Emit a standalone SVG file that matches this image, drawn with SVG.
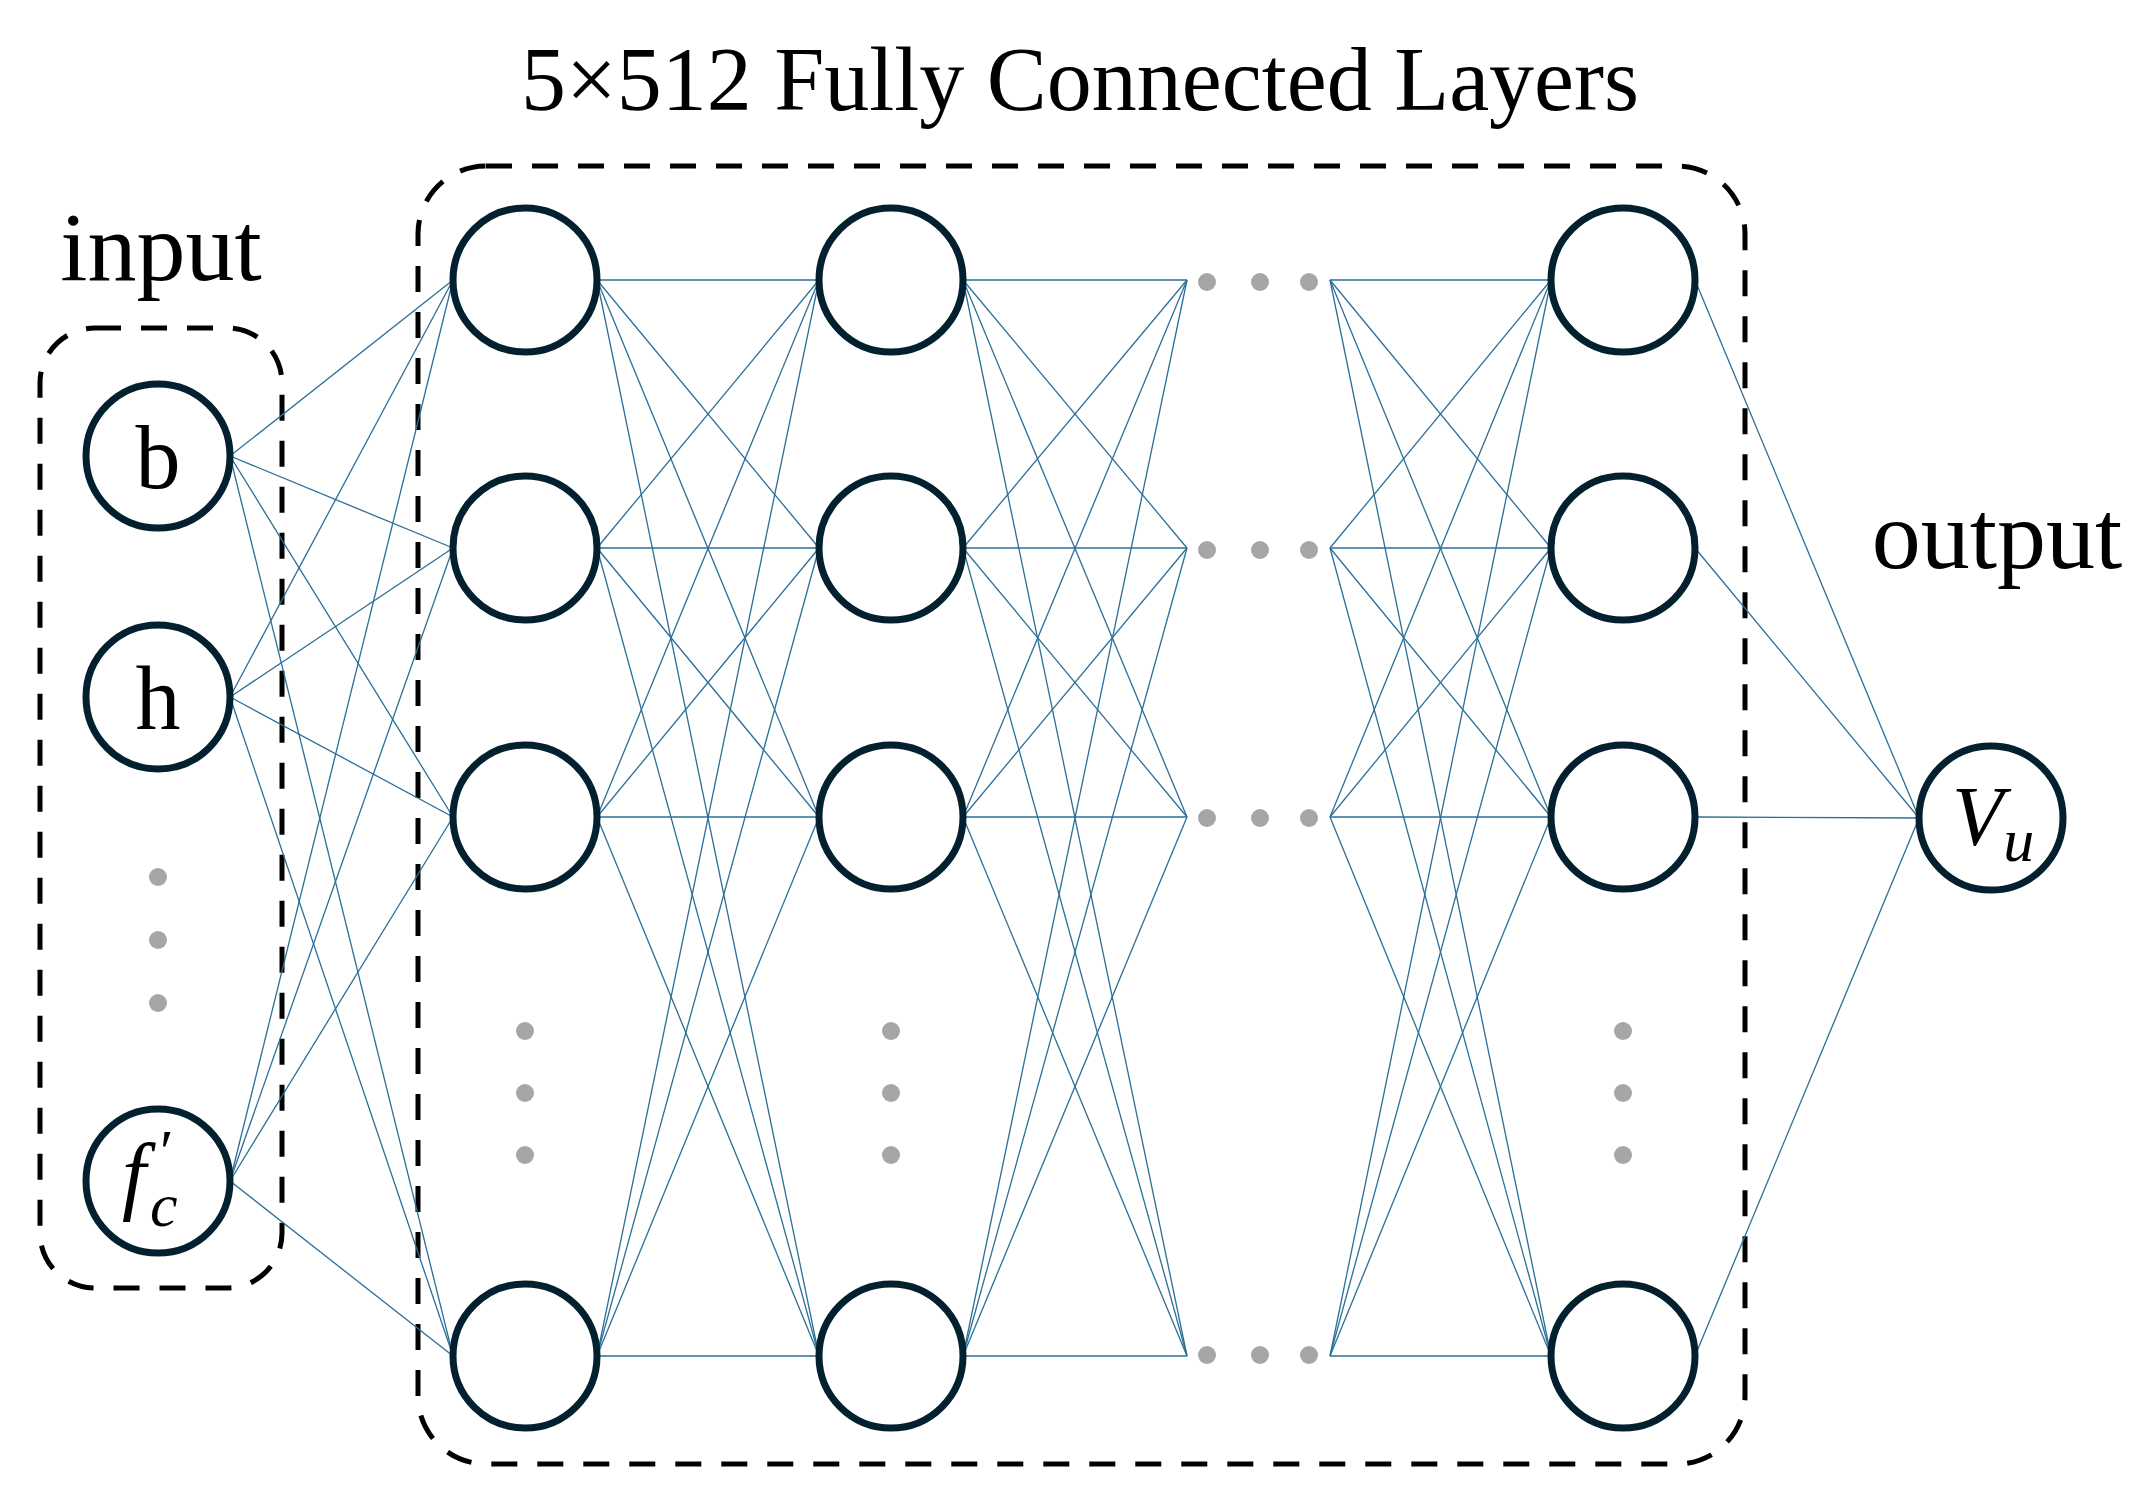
<svg xmlns="http://www.w3.org/2000/svg" width="2139" height="1491" viewBox="0 0 2139 1491">
<style>
.n{fill:#fff;stroke:#03202e;stroke-width:7}
.c line{stroke:#2a6f97;stroke-width:1.3}
.box{fill:none;stroke:#000;stroke-width:5;stroke-dasharray:26 20}
.d{fill:#a6a6a6}
text{font-family:"Liberation Serif",serif;fill:#000}
</style>
<rect width="2139" height="1491" fill="#fff"/>
<g id="labels">
<text x="1080" y="110" font-size="90" text-anchor="middle">5×512 Fully Connected Layers</text>
<text x="161" y="280" font-size="98" text-anchor="middle">input</text>
<text x="1997" y="568" font-size="98" text-anchor="middle">output</text>
</g>
<rect id="input-box" class="box" x="40" y="328" width="242" height="960" rx="55"/>
<rect id="hidden-box" class="box" x="418" y="166" width="1327" height="1298" rx="68"/>
<g class="c" id="connectors">
<line x1="230" y1="456" x2="453" y2="280"/><line x1="230" y1="456" x2="453" y2="548"/><line x1="230" y1="456" x2="453" y2="817"/><line x1="230" y1="456" x2="453" y2="1356"/>
<line x1="230" y1="697" x2="453" y2="280"/><line x1="230" y1="697" x2="453" y2="548"/><line x1="230" y1="697" x2="453" y2="817"/><line x1="230" y1="697" x2="453" y2="1356"/>
<line x1="230" y1="1181" x2="453" y2="280"/><line x1="230" y1="1181" x2="453" y2="548"/><line x1="230" y1="1181" x2="453" y2="817"/><line x1="230" y1="1181" x2="453" y2="1356"/>
<line x1="597" y1="280" x2="819" y2="280"/><line x1="597" y1="280" x2="819" y2="548"/><line x1="597" y1="280" x2="819" y2="817"/><line x1="597" y1="280" x2="819" y2="1356"/>
<line x1="597" y1="548" x2="819" y2="280"/><line x1="597" y1="548" x2="819" y2="548"/><line x1="597" y1="548" x2="819" y2="817"/><line x1="597" y1="548" x2="819" y2="1356"/>
<line x1="597" y1="817" x2="819" y2="280"/><line x1="597" y1="817" x2="819" y2="548"/><line x1="597" y1="817" x2="819" y2="817"/><line x1="597" y1="817" x2="819" y2="1356"/>
<line x1="597" y1="1356" x2="819" y2="280"/><line x1="597" y1="1356" x2="819" y2="548"/><line x1="597" y1="1356" x2="819" y2="817"/><line x1="597" y1="1356" x2="819" y2="1356"/>
<line x1="963" y1="280" x2="1187" y2="280"/><line x1="963" y1="280" x2="1187" y2="548"/><line x1="963" y1="280" x2="1187" y2="817"/><line x1="963" y1="280" x2="1187" y2="1356"/>
<line x1="963" y1="548" x2="1187" y2="280"/><line x1="963" y1="548" x2="1187" y2="548"/><line x1="963" y1="548" x2="1187" y2="817"/><line x1="963" y1="548" x2="1187" y2="1356"/>
<line x1="963" y1="817" x2="1187" y2="280"/><line x1="963" y1="817" x2="1187" y2="548"/><line x1="963" y1="817" x2="1187" y2="817"/><line x1="963" y1="817" x2="1187" y2="1356"/>
<line x1="963" y1="1356" x2="1187" y2="280"/><line x1="963" y1="1356" x2="1187" y2="548"/><line x1="963" y1="1356" x2="1187" y2="817"/><line x1="963" y1="1356" x2="1187" y2="1356"/>
<line x1="1330" y1="280" x2="1551" y2="280"/><line x1="1330" y1="280" x2="1551" y2="548"/><line x1="1330" y1="280" x2="1551" y2="817"/><line x1="1330" y1="280" x2="1551" y2="1356"/>
<line x1="1330" y1="548" x2="1551" y2="280"/><line x1="1330" y1="548" x2="1551" y2="548"/><line x1="1330" y1="548" x2="1551" y2="817"/><line x1="1330" y1="548" x2="1551" y2="1356"/>
<line x1="1330" y1="817" x2="1551" y2="280"/><line x1="1330" y1="817" x2="1551" y2="548"/><line x1="1330" y1="817" x2="1551" y2="817"/><line x1="1330" y1="817" x2="1551" y2="1356"/>
<line x1="1330" y1="1356" x2="1551" y2="280"/><line x1="1330" y1="1356" x2="1551" y2="548"/><line x1="1330" y1="1356" x2="1551" y2="817"/><line x1="1330" y1="1356" x2="1551" y2="1356"/>
<line x1="1695" y1="280" x2="1919" y2="818"/><line x1="1695" y1="548" x2="1919" y2="818"/><line x1="1695" y1="817" x2="1919" y2="818"/><line x1="1695" y1="1356" x2="1919" y2="818"/>
</g>
<g id="dots">
<circle class="d" cx="158" cy="877" r="9"/><circle class="d" cx="158" cy="940" r="9"/><circle class="d" cx="158" cy="1003" r="9"/>
<circle class="d" cx="525" cy="1031" r="9"/><circle class="d" cx="525" cy="1093" r="9"/><circle class="d" cx="525" cy="1155" r="9"/>
<circle class="d" cx="891" cy="1031" r="9"/><circle class="d" cx="891" cy="1093" r="9"/><circle class="d" cx="891" cy="1155" r="9"/>
<circle class="d" cx="1623" cy="1031" r="9"/><circle class="d" cx="1623" cy="1093" r="9"/><circle class="d" cx="1623" cy="1155" r="9"/>
<circle class="d" cx="1207" cy="282" r="9"/><circle class="d" cx="1260" cy="282" r="9"/><circle class="d" cx="1309" cy="282" r="9"/>
<circle class="d" cx="1207" cy="550" r="9"/><circle class="d" cx="1260" cy="550" r="9"/><circle class="d" cx="1309" cy="550" r="9"/>
<circle class="d" cx="1207" cy="818" r="9"/><circle class="d" cx="1260" cy="818" r="9"/><circle class="d" cx="1309" cy="818" r="9"/>
<circle class="d" cx="1207" cy="1355" r="9"/><circle class="d" cx="1260" cy="1355" r="9"/><circle class="d" cx="1309" cy="1355" r="9"/>
</g>
<g id="in-b"><circle class="n" cx="158" cy="456" r="72"/><text x="158" y="488" font-size="90" text-anchor="middle">b</text></g>
<g id="in-h"><circle class="n" cx="158" cy="697" r="72"/><text x="158" y="729" font-size="90" text-anchor="middle">h</text></g>
<g id="in-fc"><circle class="n" cx="158" cy="1181" r="72"/><text x="122" y="1203" font-size="86" font-style="italic">f<tspan x="160" y="1172" font-size="62" font-style="normal">′</tspan><tspan x="150" y="1226" font-size="62">c</tspan></text></g>
<g id="h1-1"><circle class="n" cx="525" cy="280" r="72"/></g>
<g id="h1-2"><circle class="n" cx="525" cy="548" r="72"/></g>
<g id="h1-3"><circle class="n" cx="525" cy="817" r="72"/></g>
<g id="h1-4"><circle class="n" cx="525" cy="1356" r="72"/></g>
<g id="h2-1"><circle class="n" cx="891" cy="280" r="72"/></g>
<g id="h2-2"><circle class="n" cx="891" cy="548" r="72"/></g>
<g id="h2-3"><circle class="n" cx="891" cy="817" r="72"/></g>
<g id="h2-4"><circle class="n" cx="891" cy="1356" r="72"/></g>
<g id="h5-1"><circle class="n" cx="1623" cy="280" r="72"/></g>
<g id="h5-2"><circle class="n" cx="1623" cy="548" r="72"/></g>
<g id="h5-3"><circle class="n" cx="1623" cy="817" r="72"/></g>
<g id="h5-4"><circle class="n" cx="1623" cy="1356" r="72"/></g>
<g id="out"><circle class="n" cx="1991" cy="818" r="72"/><text x="1952" y="845" font-size="84" font-style="italic">V<tspan font-size="62" dy="16">u</tspan></text></g>
</svg>
